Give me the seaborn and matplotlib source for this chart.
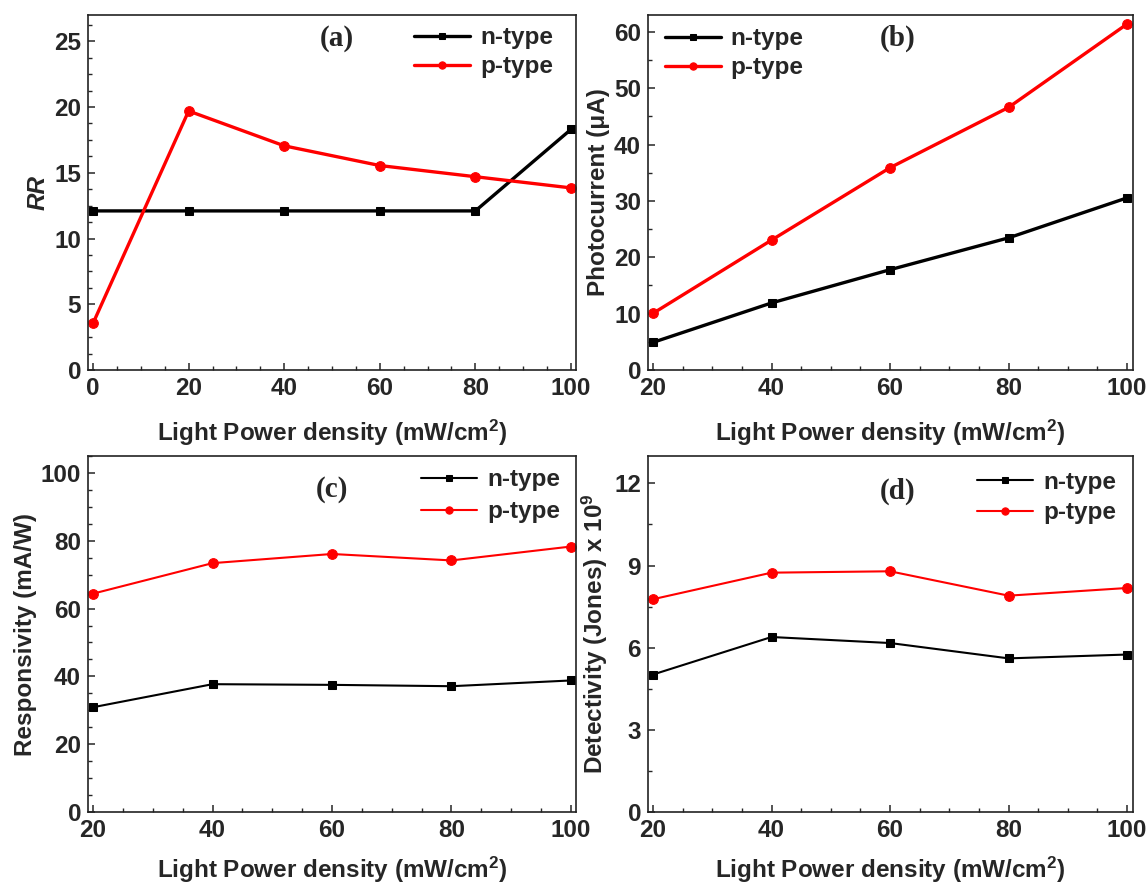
import numpy as np
import pandas as pd
import seaborn as sns
import matplotlib
matplotlib.use("Agg")
import matplotlib.pyplot as plt
from matplotlib.ticker import MultipleLocator

# ---------------- data ----------------
x_a = [0, 20, 40, 60, 80, 100]
rr_n = [12.1, 12.1, 12.1, 12.1, 12.1, 18.3]
rr_p = [3.55, 19.7, 17.05, 15.55, 14.7, 13.85]

x_bcd = [20, 40, 60, 80, 100]
pc_n = [4.9, 11.9, 17.8, 23.45, 30.55]
pc_p = [10.05, 23.05, 35.9, 46.6, 61.4]

resp_n = [30.9, 37.7, 37.5, 37.1, 38.8]
resp_p = [64.4, 73.4, 76.1, 74.2, 78.3]

det_n = [5.02, 6.39, 6.17, 5.61, 5.75]
det_p = [7.77, 8.74, 8.79, 7.90, 8.18]

series_labels = ["n-type", "p-type"]
panel_tags = ["(a)", "(b)", "(c)", "(d)"]
xlabel = "Light Power density (mW/cm$^{2}$)"

# ---------------- style ----------------
sns.set_style("ticks")
plt.rcParams["font.family"] = ["Liberation Sans", "DejaVu Sans"]
plt.rcParams["font.weight"] = "bold"
plt.rcParams["axes.labelweight"] = "bold"
plt.rcParams["mathtext.fontset"] = "custom"
plt.rcParams["mathtext.rm"] = "Liberation Sans:bold"
plt.rcParams["mathtext.bf"] = "Liberation Sans:bold"
plt.rcParams["mathtext.it"] = "Liberation Sans:bold:italic"
plt.rcParams["mathtext.default"] = "rm"

W, H = 1148, 886
fig = plt.figure(figsize=(W / 100, H / 100), dpi=100)

def frac(l, r, t, b):
    return [l / W, 1 - b / H, (r - l) / W, (b - t) / H]

rects = [frac(88, 576, 15, 370), frac(648, 1133, 15, 370),
         frac(88, 576, 456, 812), frac(648, 1133, 456, 812)]

FS = 17.5

panels = [
    dict(x=x_a, n=rr_n, p=rr_p, xlim=(-1.05, 101.05), ylim=(0, 27),
         ymaj=5, ymin=1.25, ylabel="RR", lw=2.4, legloc="upper right",
         tag=(0.51, 0.935), legbbox=(0.953, 0.968), lsp=0.24, xlp=12.5),
    dict(x=x_bcd, n=pc_n, p=pc_p, xlim=(19.16, 101.0), ylim=(0, 63),
         ymaj=10, ymin=5, ylabel="Photocurrent (\u03bcA)", lw=2.4,
         legloc="upper left", tag=(0.515, 0.935), legbbox=(0.035, 0.965), lsp=0.24, xlp=12.5),
    dict(x=x_bcd, n=resp_n, p=resp_p, xlim=(19.16, 100.84), ylim=(0, 105),
         ymaj=20, ymin=5, ylabel="Responsivity (mA/W)", lw=1.5,
         legloc="upper right", tag=(0.50, 0.905), legbbox=(0.967, 0.965), lsp=0.36, xlp=9.5),
    dict(x=x_bcd, n=det_n, p=det_p, xlim=(19.16, 101.0), ylim=(0, 13),
         ymaj=3, ymin=1.5, ylabel="Detectivity (Jones) x 10$^{9}$", lw=1.5,
         legloc="upper right", tag=(0.515, 0.90), legbbox=(0.965, 0.958), lsp=0.3, xlp=9.5),
]

for i, (rect, P) in enumerate(zip(rects, panels)):
    ax = fig.add_axes(rect)
    df = pd.DataFrame({"x": list(P["x"]) * 2,
                       "y": list(P["n"]) + list(P["p"]),
                       "type": [series_labels[0]] * len(P["x"]) + [series_labels[1]] * len(P["x"])})
    sns.lineplot(data=df[df["type"] == series_labels[0]], x="x", y="y", ax=ax, color="black",
                 marker="s", markersize=5.8, markeredgecolor="black", linewidth=P["lw"],
                 label=series_labels[0])
    sns.lineplot(data=df[df["type"] == series_labels[1]], x="x", y="y", ax=ax, color="#ff0000",
                 marker="o", markersize=7, markeredgecolor="#ff0000", linewidth=P["lw"],
                 label=series_labels[1])
    ax.set_xlim(*P["xlim"])
    ax.set_ylim(*P["ylim"])
    ax.xaxis.set_major_locator(MultipleLocator(20))
    ax.xaxis.set_minor_locator(MultipleLocator(5))
    ax.yaxis.set_major_locator(MultipleLocator(P["ymaj"]))
    ax.yaxis.set_minor_locator(MultipleLocator(P["ymin"]))
    ax.tick_params(axis="both", which="major", direction="in", length=5, width=1.1,
                   labelsize=FS, pad=5, top=False, right=False)
    ax.tick_params(axis="both", which="minor", direction="in", length=3, width=1.0,
                   top=False, right=False)
    for lab in ax.get_xticklabels() + ax.get_yticklabels():
        lab.set_fontweight("bold")
    for s in ax.spines.values():
        s.set_linewidth(1.2)
        s.set_color("#222222")
    ax.set_xlabel(xlabel, fontsize=FS, fontweight="bold", labelpad=P["xlp"])
    if i == 0:
        ax.set_ylabel(P["ylabel"], fontsize=FS, fontweight="bold", fontstyle="italic", labelpad=3)
    else:
        ax.set_ylabel(P["ylabel"], fontsize=FS, fontweight="bold", labelpad=3)
    ax.text(P["tag"][0], P["tag"][1], panel_tags[i], transform=ax.transAxes,
            ha="center", va="center", fontsize=21, fontweight="bold",
            family="Liberation Serif")
    ax.legend(loc=P["legloc"], bbox_to_anchor=P["legbbox"], frameon=False,
              prop={"weight": "bold", "size": FS}, handlelength=2.3,
              handletextpad=0.4, labelspacing=P["lsp"], borderaxespad=0,
              borderpad=0, markerscale=0.75)

fig.savefig("out.png", dpi=100)
